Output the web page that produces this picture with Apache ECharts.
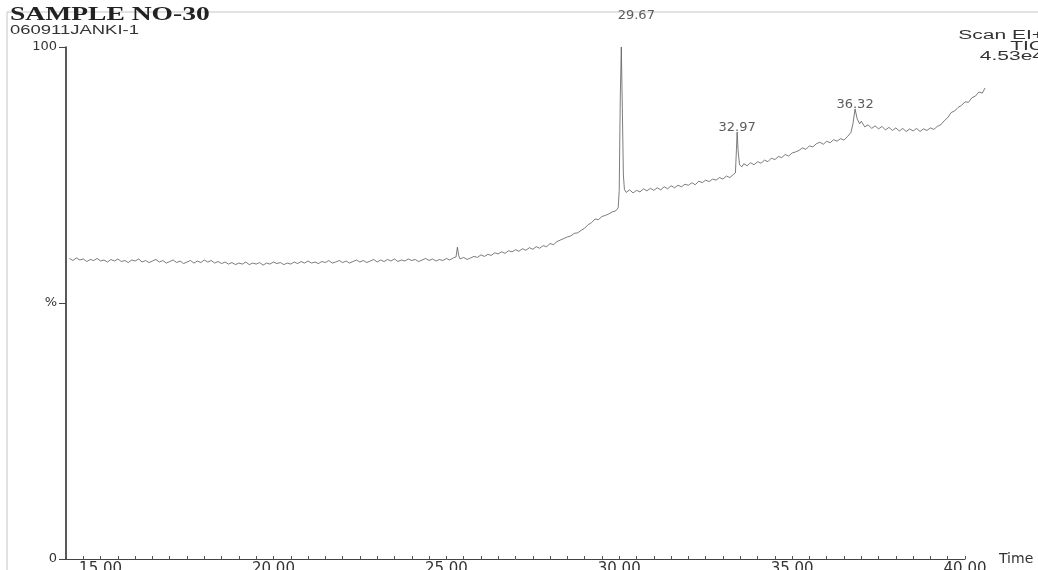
<!DOCTYPE html>
<html>
<head>
<meta charset="utf-8">
<script src="https://cdn.jsdelivr.net/npm/echarts@6/dist/echarts.min.js"></script>
<style>
html,body{margin:0;padding:0;background:#fff;}
#chart{width:1038px;height:570px;}
</style>
</head>
<body>
<div id="chart"></div>
<script>
// Chromatogram trace: [retention time (min), relative intensity (%)]
const ticTrace = [
[14.1,58.7],[14.2,58.3],[14.3,58.8],[14.4,58.4],[14.5,58.6],[14.6,58.1],[14.7,58.5],[14.8,58.3],[14.9,58.7],[15.0,58.2],
[15.1,58.4],[15.2,58.0],[15.3,58.5],[15.4,58.2],[15.5,58.6],[15.6,58.1],[15.7,58.3],[15.8,57.9],[15.9,58.4],[16.0,58.2],
[16.1,58.6],[16.2,58.0],[16.3,58.3],[16.4,57.9],[16.5,58.2],[16.6,58.5],[16.7,58.0],[16.8,58.3],[16.9,57.8],[17.0,58.1],
[17.1,58.4],[17.2,57.9],[17.3,58.2],[17.4,57.7],[17.5,58.0],[17.6,58.3],[17.7,57.8],[17.8,58.2],[17.9,57.9],[18.0,58.4],
[18.1,58.0],[18.2,58.3],[18.3,57.8],[18.4,58.1],[18.5,57.7],[18.6,58.0],[18.7,57.6],[18.8,57.9],[18.9,57.5],[19.0,57.8],
[19.1,57.6],[19.2,58.0],[19.3,57.5],[19.4,57.8],[19.5,57.6],[19.6,57.9],[19.7,57.4],[19.8,57.8],[19.9,57.6],[20.0,58.0],
[20.1,57.7],[20.2,57.9],[20.3,57.5],[20.4,57.8],[20.5,57.6],[20.6,58.0],[20.7,57.7],[20.8,58.1],[20.9,57.8],[21.0,58.2],
[21.1,57.8],[21.2,58.0],[21.3,57.7],[21.4,58.1],[21.5,57.9],[21.6,58.3],[21.7,57.8],[21.8,58.0],[21.9,58.3],[22.0,57.9],
[22.1,58.2],[22.2,57.8],[22.3,58.1],[22.4,58.4],[22.5,58.0],[22.6,58.3],[22.7,57.9],[22.8,58.2],[22.9,58.5],[23.0,58.0],
[23.1,58.4],[23.2,58.1],[23.3,58.5],[23.4,58.2],[23.5,58.6],[23.6,58.1],[23.7,58.4],[23.8,58.2],[23.9,58.6],[24.0,58.3],
[24.1,58.5],[24.2,58.1],[24.3,58.4],[24.4,58.7],[24.5,58.3],[24.6,58.6],[24.7,58.2],[24.8,58.5],[24.9,58.3],[25.0,58.7],
[25.1,58.4],[25.2,58.8],[25.28,59.0],[25.32,60.9],[25.36,59.2],[25.4,58.6],[25.5,58.9],[25.6,58.5],[25.7,58.8],[25.8,59.1],
[25.9,58.9],[26.0,59.4],[26.1,59.1],[26.2,59.5],[26.3,59.3],[26.4,59.8],[26.5,59.6],[26.6,60.0],[26.7,59.7],[26.8,60.2],
[26.9,60.0],[27.0,60.4],[27.1,60.1],[27.2,60.6],[27.3,60.3],[27.4,60.8],[27.5,60.5],[27.6,61.0],[27.7,60.7],[27.8,61.2],
[27.9,61.0],[28.0,61.6],[28.1,61.4],[28.2,62.0],[28.3,62.3],[28.4,62.6],[28.5,62.9],[28.6,63.1],[28.7,63.6],[28.8,63.7],
[28.9,64.2],[29.0,64.6],[29.1,65.3],[29.2,65.7],[29.3,66.4],[29.4,66.3],[29.5,66.9],[29.6,67.1],[29.7,67.4],[29.8,67.8],
[29.9,68.0],[29.97,68.6],[30.0,72.0],[30.03,90.0],[30.06,100.0],[30.09,88.0],[30.12,75.0],[30.15,72.2],[30.2,71.6],[30.3,72.1],
[30.4,71.5],[30.5,72.0],[30.6,71.7],[30.7,72.3],[30.8,71.9],[30.9,72.4],[31.0,72.0],[31.1,72.5],[31.2,72.1],[31.3,72.7],
[31.4,72.3],[31.5,72.9],[31.6,72.5],[31.7,73.0],[31.8,72.7],[31.9,73.2],[32.0,73.0],[32.1,73.5],[32.2,73.1],[32.3,73.8],
[32.4,73.5],[32.5,74.0],[32.6,73.7],[32.7,74.2],[32.8,74.0],[32.9,74.5],[33.0,74.2],[33.1,74.8],[33.2,74.5],[33.3,75.1],
[33.36,75.4],[33.39,80.0],[33.41,83.4],[33.44,79.5],[33.48,77.0],[33.55,76.6],[33.6,77.2],[33.7,76.8],[33.8,77.4],[33.9,77.0],
[34.0,77.6],[34.1,77.3],[34.2,77.9],[34.3,77.6],[34.4,78.3],[34.5,78.0],[34.6,78.6],[34.7,78.4],[34.8,79.0],[34.9,78.7],
[35.0,79.3],[35.1,79.5],[35.2,79.8],[35.3,80.3],[35.4,80.0],[35.5,80.7],[35.6,80.5],[35.7,81.1],[35.8,81.4],[35.9,81.0],
[36.0,81.6],[36.1,81.3],[36.2,81.9],[36.3,81.6],[36.4,82.1],[36.5,81.8],[36.6,82.5],[36.7,83.3],[36.76,85.0],[36.82,87.9],
[36.88,86.0],[36.95,85.0],[37.0,85.5],[37.1,84.4],[37.2,84.8],[37.3,84.1],[37.4,84.6],[37.5,84.0],[37.6,84.5],[37.7,83.8],
[37.8,84.3],[37.9,83.7],[38.0,84.2],[38.1,83.6],[38.2,84.1],[38.3,83.5],[38.4,84.0],[38.5,83.6],[38.6,84.1],[38.7,83.5],
[38.8,84.0],[38.9,83.7],[39.0,84.2],[39.1,83.9],[39.2,84.5],[39.3,84.8],[39.4,85.6],[39.5,86.2],[39.6,87.2],[39.7,87.5],
[39.8,88.2],[39.9,88.6],[40.0,89.3],[40.1,89.2],[40.2,90.1],[40.3,90.4],[40.4,91.2],[40.5,91.0],[40.58,92.0]
];

// Labelled peaks
const peakTimes   = [30.06, 33.41, 36.82];
const peakHeights = [100.0, 83.4, 87.9];
const peakLabels  = ['29.67', '32.97', '36.32'];

// Axis tick labels
const xLabelTimes = [15, 20, 25, 30, 35, 40];
const yLabelMap   = { 0: '0', 50: '%', 100: '100' };

// Axis ranges: the drawn axis stops at 40 min, the trace runs a little past it
const xMin = 14, xAxisMax = 40, xTraceMax = 40.6;
const plotLeft = 66, plotWidth = 899, plotTop = 47, plotBottom = 11;

const chart = echarts.init(document.getElementById('chart'), null, { renderer: 'canvas' });

const peakData = peakTimes.map((t, i) => {
  const item = { value: [t, peakHeights[i]], name: peakLabels[i] };
  if (i === 0) item.label = { offset: [15, -27] };
  return item;
});

// second (invisible) grid with the same px/min scale, extended to the trace end
const traceWidth = plotWidth * (xTraceMax - xMin) / (xAxisMax - xMin);

const option = {
  animation: false,
  backgroundColor: '#ffffff',
  grid: [
    { left: plotLeft, width: plotWidth, top: plotTop, bottom: plotBottom, containLabel: false, outerBoundsMode: 'none' },
    { left: plotLeft, width: traceWidth, top: plotTop, bottom: plotBottom, containLabel: false, outerBoundsMode: 'none' }
  ],
  xAxis: [
    {
      type: 'value', gridIndex: 0,
      min: xMin, max: xAxisMax, interval: 0.5,
      name: 'Time',
      nameLocation: 'end',
      nameGap: 34,
      nameTextStyle: { fontFamily: 'DejaVu Sans', fontSize: 14, color: '#333', verticalAlign: 'middle', padding: [6, 0, 0, 0] },
      axisLine: { show: true, lineStyle: { color: '#444', width: 1 } },
      axisTick: { show: true, inside: true, length: 3, lineStyle: { color: '#555', width: 1 } },
      axisLabel: {
        interval: 0,
        margin: 3,
        fontFamily: 'DejaVu Sans', fontSize: 15, color: '#333',
        formatter: v => xLabelTimes.indexOf(Math.round(v * 100) / 100) >= 0 ? v.toFixed(2) : ''
      },
      splitLine: { show: false }
    },
    { type: 'value', gridIndex: 1, min: xMin, max: xTraceMax, show: false }
  ],
  yAxis: [
    {
      type: 'value', gridIndex: 0,
      min: 0, max: 100, interval: 50,
      axisLine: { show: true, lineStyle: { color: '#222', width: 1.5 } },
      axisTick: { show: true, inside: false, length: 7, lineStyle: { color: '#444', width: 1 } },
      axisLabel: {
        margin: 9,
        fontFamily: 'DejaVu Sans', fontSize: 13, color: '#333',
        formatter: v => yLabelMap[v] !== undefined ? yLabelMap[v] : ''
      },
      splitLine: { show: false }
    },
    { type: 'value', gridIndex: 1, min: 0, max: 100, show: false }
  ],
  series: [
    {
      type: 'line',
      xAxisIndex: 1, yAxisIndex: 1,
      data: ticTrace,
      showSymbol: false,
      clip: false,
      lineStyle: { color: '#5a5a5a', width: 0.8 },
      emphasis: { disabled: true }
    },
    {
      type: 'scatter',
      xAxisIndex: 1, yAxisIndex: 1,
      data: peakData,
      symbolSize: 0,
      clip: false,
      label: {
        show: true,
        position: 'top',
        distance: -2,
        formatter: p => p.name,
        fontFamily: 'DejaVu Sans', fontSize: 13, color: '#333'
      },
      emphasis: { disabled: true }
    }
  ],
  graphic: [
    { type: 'line', shape: { x1: 7, y1: 12, x2: 1038, y2: 12 }, style: { stroke: '#c4c4c4', lineWidth: 1 } },
    { type: 'line', shape: { x1: 7, y1: 12, x2: 7, y2: 570 }, style: { stroke: '#c4c4c4', lineWidth: 1 } },
    { type: 'text', x: 10, y: 6, scaleX: 1.45, style: { text: 'SAMPLE NO-30', font: 'bold 19px "Liberation Serif"', fill: '#222', textVerticalAlign: 'top' } },
    { type: 'text', x: 10, y: 24, scaleX: 1.42, style: { text: '060911JANKI-1', font: '13px "Liberation Sans"', fill: '#333', textVerticalAlign: 'top' } },
    { type: 'text', x: 1044, y: 30, scaleX: 1.75, style: { text: 'Scan EI+', font: '12px "Liberation Sans"', fill: '#333', textAlign: 'right', textVerticalAlign: 'top' } },
    { type: 'text', x: 1044, y: 40.5, scaleX: 1.75, style: { text: 'TIC', font: '12px "Liberation Sans"', fill: '#333', textAlign: 'right', textVerticalAlign: 'top' } },
    { type: 'text', x: 1044, y: 51, scaleX: 1.75, style: { text: '4.53e4', font: '12px "Liberation Sans"', fill: '#333', textAlign: 'right', textVerticalAlign: 'top' } }
  ]
};

chart.setOption(option);
</script>
</body>
</html>
